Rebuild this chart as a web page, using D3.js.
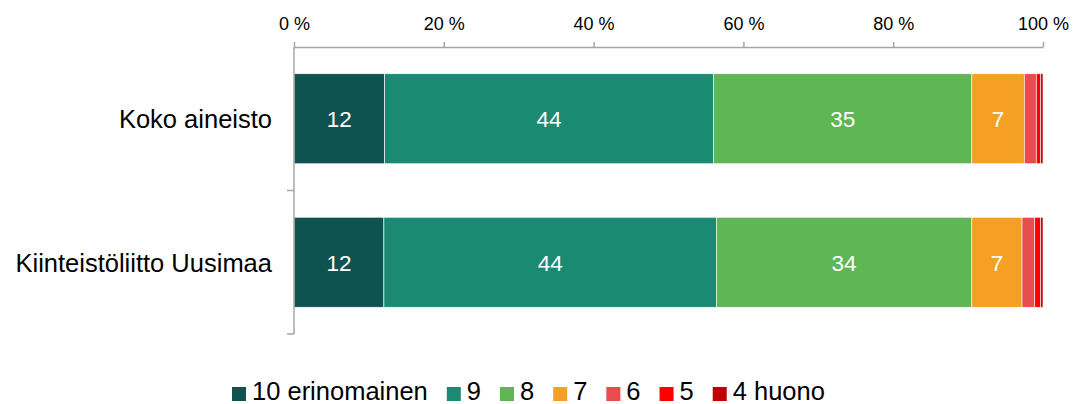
<!DOCTYPE html>
<html>
<head>
<meta charset="utf-8">
<script src="https://cdn.jsdelivr.net/npm/d3@7"></script>
<style>
  body { margin: 0; background: #fff; }
  svg { font-family: Arial, "Liberation Sans", sans-serif; }
</style>
</head>
<body>
<svg id="chart" width="1074" height="404"></svg>
<script>
// data
const categories = ["Koko aineisto", "Kiinteistöliitto Uusimaa"]
const seriesNames = ["10 erinomainen", "9", "8", "7", "6", "5", "4 huono"]
const kokoAineisto = [12.1, 43.9, 34.5, 7.0, 1.6, 0.6, 0.3]
const kiinteistoliitto = [12.0, 44.4, 34.1, 6.7, 1.7, 0.8, 0.3]
const tickValues = [0, 20, 40, 60, 80, 100]

const colors = ["#0f5350", "#1b8a73", "#5fb655", "#f5a025", "#e84c4d", "#fe0000", "#c00000"]
const values = [kokoAineisto, kiinteistoliitto]

const svg = d3.select("#chart")
const axisColor = "#a6a6a6"

const x = d3.scaleLinear()
  .domain([0, 100])
  .range([294, 1043])

const y = d3.scaleBand()
  .domain(categories)
  .range([47, 334])
  .paddingInner(0.373)
  .paddingOuter(0.1865)

// stack each row
const rows = categories.map((c, i) => {
  let acc = 0
  return values[i].map((v, j) => {
    const seg = { cat: c, series: j, value: v, x0: acc, x1: acc + v }
    acc += v
    return seg
  })
})

const g = svg.append("g")
g.selectAll("g.row")
  .data(rows)
  .enter().append("g")
  .attr("class", "row")
  .selectAll("rect")
  .data(d => d)
  .enter().append("rect")
  .attr("x", d => x(d.x0))
  .attr("y", d => y(d.cat))
  .attr("width", d => x(d.x1) - x(d.x0))
  .attr("height", y.bandwidth())
  .attr("fill", d => colors[d.series])
  .attr("stroke", "#fff")
  .attr("stroke-width", 0.6)

// value labels
const segs = rows.flat().filter(d => d.value >= 5)
g.selectAll("text.val")
  .data(segs)
  .enter().append("text")
  .attr("class", "val")
  .attr("x", d => (x(d.x0) + x(d.x1)) / 2)
  .attr("y", d => y(d.cat) + y.bandwidth() / 2)
  .attr("dy", "0.38em")
  .attr("text-anchor", "middle")
  .attr("fill", "#fff")
  .style("font-size", "22.5px")
  .text(d => Math.round(d.value))

// top axis
const xAxis = svg.append("g")
  .attr("transform", `translate(0,${y.range()[0]})`)
  .call(d3.axisTop(x)
    .tickValues(tickValues)
    .tickFormat(d => d + " %")
    .tickSize(5)
    .tickSizeOuter(0)
    .tickPadding(12))
xAxis.selectAll("path, line").attr("stroke", axisColor).attr("stroke-width", 1.5)
xAxis.selectAll("text")
  .attr("fill", "#000")
  .style("font-size", "18px")
  .style("font-family", "Arial, 'Liberation Sans', sans-serif")

// left category axis
const yAxis = svg.append("g")
const [y0, y1] = y.range()
yAxis.append("line")
  .attr("x1", x(0)).attr("x2", x(0))
  .attr("y1", y0).attr("y2", y1)
  .attr("stroke", axisColor).attr("stroke-width", 1.5)
const bounds = d3.range(1, categories.length + 1).map(i => y0 + i * y.step())
yAxis.selectAll("line.tick")
  .data(bounds)
  .enter().append("line")
  .attr("class", "tick")
  .attr("x1", x(0) - 7).attr("x2", x(0))
  .attr("y1", d => d).attr("y2", d => d)
  .attr("stroke", axisColor).attr("stroke-width", 1.5)

yAxis.selectAll("text")
  .data(categories)
  .enter().append("text")
  .attr("x", 272)
  .attr("y", d => y(d) + y.bandwidth() / 2)
  .attr("dy", "0.38em")
  .attr("text-anchor", "end")
  .style("font-size", "25.5px")
  .text(d => d)

// legend
const legend = svg.append("g").attr("transform", "translate(232,400)")
let lx = 0
seriesNames.forEach((name, i) => {
  const item = legend.append("g").attr("transform", `translate(${lx},0)`)
  item.append("rect")
    .attr("x", 0).attr("y", -13)
    .attr("width", 14).attr("height", 14)
    .attr("fill", colors[i])
  const t = item.append("text")
    .attr("x", 20)
    .style("font-size", "25.5px")
    .text(name)
  lx += 20 + t.node().getComputedTextLength() + 19
})
</script>
</body>
</html>
